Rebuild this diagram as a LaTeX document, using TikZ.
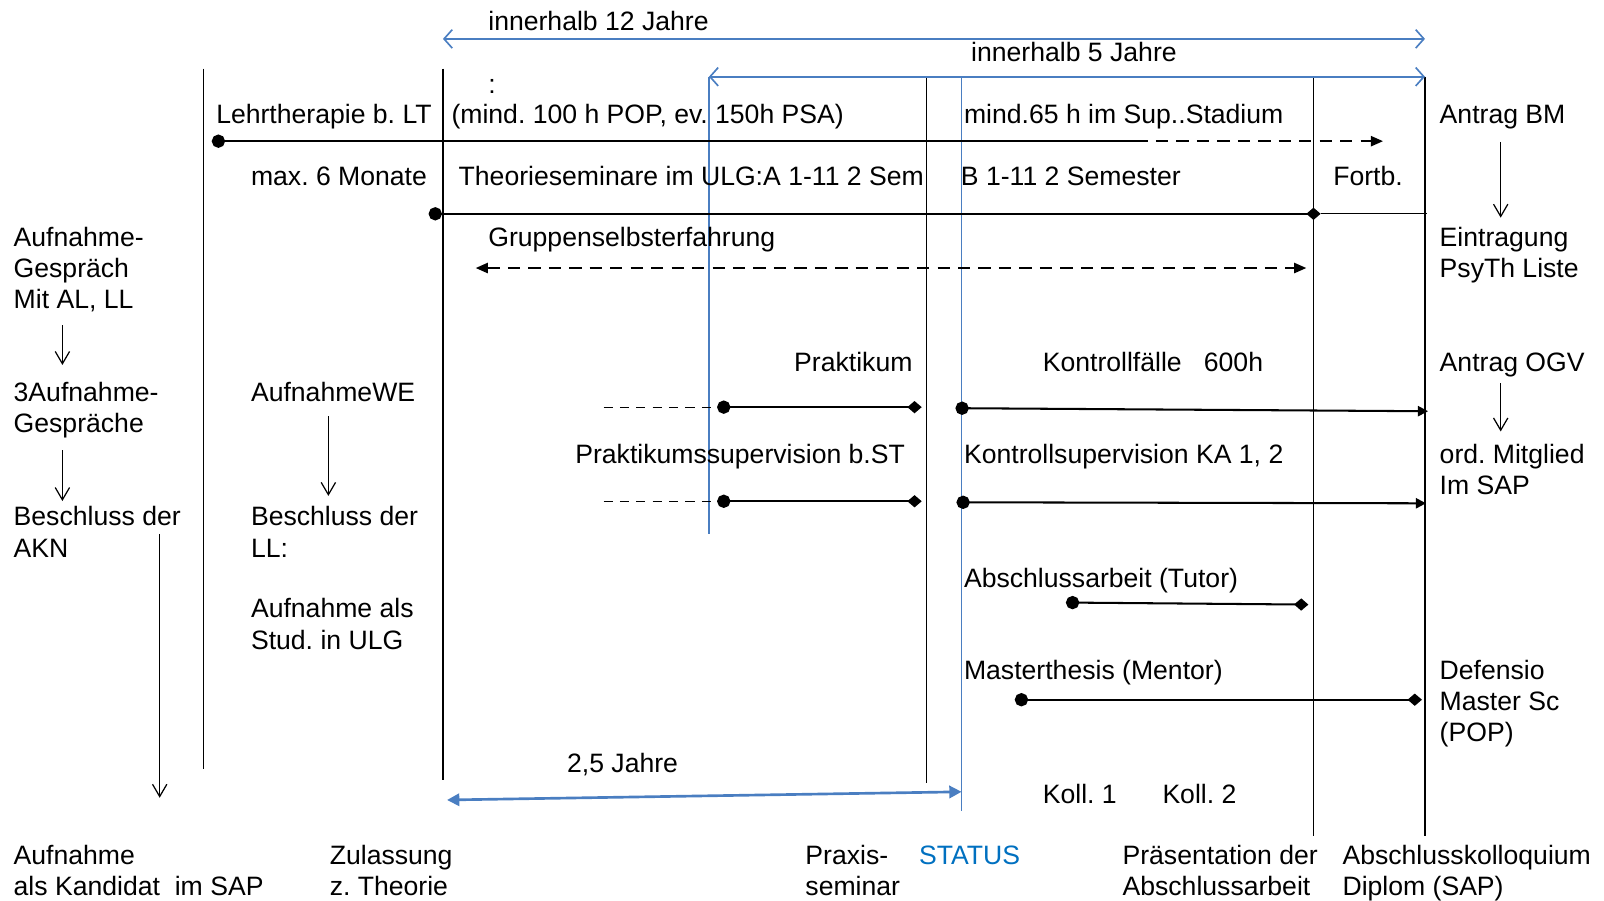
\documentclass[tikz,border=0pt]{standalone}
\usepackage{fontspec}
\setmainfont{Liberation Sans}
\usetikzlibrary{arrows.meta}
\definecolor{linie}{RGB}{74,126,193}
\definecolor{statusblau}{RGB}{0,112,192}
\frenchspacing

\begin{document}
\begin{tikzpicture}[x=0.5pt, y=-0.5pt,
    txt/.style={anchor=base west, inner sep=0pt, align=left, font=\fontsize{13}{15.25}\selectfont},
    grenze/.style={line width=0.6pt},
    blaulinie/.style={draw=linie, line width=0.8pt},
    frist/.style={blaulinie, {Straight Barb[length=4pt,width=9pt]}-{Straight Barb[length=4pt,width=9pt]}},
    schritt/.style={line width=0.6pt, -{Straight Barb[length=6pt,width=7pt]}},
    balken/.style={line width=1pt},
    phase/.style={balken, {Circle[length=6.5pt]}-{Diamond[length=7pt,width=6pt]}},
    laufend/.style={balken, {Circle[length=6.5pt]}-{Triangle[length=5pt,width=5pt]}},
    strich/.style={dash pattern=on 6pt off 4pt}]
    \useasboundingbox (0,0) rectangle (1568,880);

    % Draw the time columns
    \foreach \x/\a/\b in {199/67/752, 433/67/762, 906/75/765, 1284/75/817, 1393/75/817} {
        \draw[grenze] (\x,\a) -- (\x,\b);
    }
    \foreach \x/\b in {693/522, 940/793} {
        \draw[blaulinie] (\x,75) -- (\x,\b);
    }

    % Draw the labels (y = baseline of the last line)
    \foreach \n/\x/\y/\txt in {j12/477/30/{innerhalb 12 Jahre}, j5/949/60/{innerhalb 5 Jahre},
        dp/477/91/{:}, lt/211/121/{Lehrtherapie b. LT}, pop/441/121/{(mind. 100 h POP, ev. 150h PSA)},
        sup/942/121/{mind.65 h im Sup..Stadium}, bm/1407/121/{Antrag BM},
        mon/245/181/{max. 6 Monate}, theo/448/181/{Theorieseminare im ULG:A 1-11 2 Sem},
        sem/939/181/{B 1-11 2 Semester}, fortb/1303/181/{Fortb.},
        aufg/13/302/{Aufnahme-\\Gespräch\\Mit AL, LL}, gse/477/241/{Gruppenselbsterfahrung},
        eintr/1407/271.5/{Eintragung\\PsyTh Liste},
        prak/776/363/{Praktikum}, kf/1019/363/{Kontrollfälle\ \ \ 600h}, ogv/1407/363/{Antrag OGV},
        auf3/13/422.5/{3Aufnahme-\\Gespräche}, awe/245/392/{AufnahmeWE},
        psup/562/453/{Praktikumssupervision b.ST}, ksup/942/453/{Kontrollsupervision KA 1, 2},
        mitgl/1407/483.5/{ord. Mitglied\\Im SAP},
        akn/13/544.5/{Beschluss der\\AKN}, ll/245/544.5/{Beschluss der\\LL:},
        absa/942/574/{Abschlussarbeit (Tutor)}, stud/245/634.5/{Aufnahme als\\Stud. in ULG},
        mth/942/664/{Masterthesis (Mentor)}, def/1407/725/{Defensio\\Master Sc\\(POP)},
        j25/554/755/{2,5 Jahre}, k1/1019/785/{Koll. 1}, k2/1136/785/{Koll. 2},
        kand/13/875.5/{Aufnahme\\als Kandidat\ \ im SAP}, zul/322/875.5/{Zulassung\\z. Theorie},
        praxis/787/875.5/{Praxis-\\seminar},
        praes/1097/875.5/{Präsentation der\\Abschlussarbeit}, koll/1312/875.5/{Abschlusskolloquium\\Diplom (SAP)}} {
        \node[txt] (\n) at (\x,\y) {\txt};
    }
    \node[txt, text=statusblau] (status) at (898,845) {STATUS};

    % Time limits
    \coordinate (f12a) at (433,38);
    \coordinate (f12b) at (1393,38);
    \coordinate (f5a) at (693,75);
    \coordinate (f5b) at (1393,75);
    \draw[frist] (f12a) -- (f12b);
    \draw[frist] (f5a) -- (f5b);
    \coordinate (s25a) at (437,782);
    \coordinate (s25b) at (940,774);
    \draw[draw=linie, line width=1.3pt, {Triangle[length=6pt,width=6pt]}-{Triangle[length=6pt,width=6pt]}] (s25a) -- (s25b);

    % Training phases
    \coordinate (lt0) at (207,138);
    \coordinate (lt1) at (1110,138);
    \coordinate (lt2) at (1352,138);
    \draw[balken, {Circle[length=6.5pt]}-] (lt0) -- (lt1);
    \draw[balken, strich, -{Triangle[length=6pt,width=5pt]}] (lt1) -- (lt2);
    \coordinate (th0) at (419,209);
    \coordinate (th1) at (1291,209);
    \coordinate (th2) at (1395,209);
    \draw[phase] (th0) -- (th1);
    \draw[grenze] (th1) -- (th2);
    \coordinate (gs0) at (465,262);
    \coordinate (gs1) at (1277,262);
    \draw[balken, strich, {Triangle[length=6pt,width=5pt]}-{Triangle[length=6pt,width=5pt]}] (gs0) -- (gs1);
    \foreach \n/\y in {pk/398, ps/490} {
        \coordinate (\n0) at (590,\y);
        \coordinate (\n1) at (701,\y);
        \coordinate (\n2) at (901,\y);
        \draw[grenze, dash pattern=on 4.5pt off 3.5pt] (\n0) -- (\n1);
        \draw[phase] (\n1) -- (\n2);
    }
    \coordinate (kf0) at (934,399);
    \coordinate (kf1) at (1396,402);
    \draw[laufend] (kf0) -- (kf1);
    \coordinate (ks0) at (935,491);
    \coordinate (ks1) at (1394,492);
    \draw[laufend] (ks0) -- (ks1);
    \coordinate (ab0) at (1042,589);
    \coordinate (ab1) at (1279,591);
    \draw[phase] (ab0) -- (ab1);
    \coordinate (mt0) at (992,684);
    \coordinate (mt1) at (1390,684);
    \draw[phase] (mt0) -- (mt1);

    % Steps between the labels
    \draw[schritt, shorten <=6pt, shorten >=4.5pt] ([xshift=30pt]bm.south west) -- ([xshift=30pt]eintr.north west);
    \draw[schritt, shorten <=3pt, shorten >=6pt] ([xshift=30pt]ogv.south west) -- ([xshift=30pt]mitgl.north west);
    \draw[schritt, shorten <=6pt, shorten >=8pt] ([xshift=24pt]aufg.south west) -- ([xshift=24pt]auf3.north west);
    \draw[schritt, shorten <=6pt, shorten >=2.5pt] ([xshift=24pt]auf3.south west) -- ([xshift=24pt]akn.north west);
    \draw[schritt] ([xshift=-10.5pt,yshift=-1pt]akn.east) -- ++(0,258);
    \draw[schritt, shorten <=7pt, shorten >=5pt] ([xshift=38pt]awe.south west) -- ([xshift=38pt]ll.north west);
\end{tikzpicture}
\end{document}
